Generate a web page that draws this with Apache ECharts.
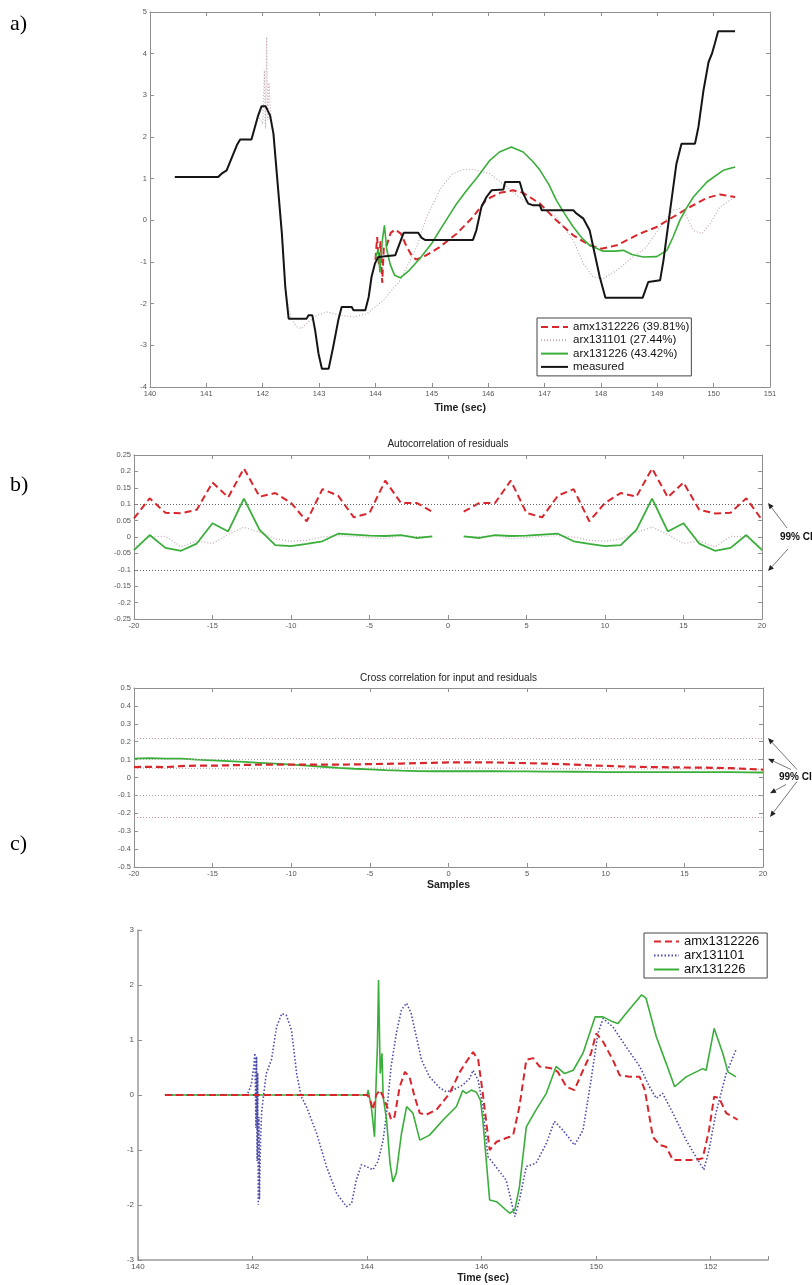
<!DOCTYPE html>
<html><head><meta charset="utf-8">
<script src="https://cdn.jsdelivr.net/npm/echarts@6/dist/echarts.min.js"></script>
<style>html,body{margin:0;padding:0;background:#fff}#c{width:812px;height:1285px}</style>
</head><body><div id="c"></div>
<script>
// ---------------- DATA ----------------
// Panel a: simulated vs measured output
const aMeasured = [[140.44,1.04],[141.21,1.04],[141.27,1.12],[141.36,1.2],[141.54,1.8],[141.60,1.94],[141.80,1.94],[141.92,2.52],[141.98,2.74],[142.05,2.74],[142.13,2.52],[142.19,2.08],[142.25,1.12],[142.34,-0.32],[142.40,-1.6],[142.46,-2.36],[142.78,-2.36],[142.81,-2.28],[142.88,-2.28],[142.93,-2.64],[142.99,-3.2],[143.05,-3.56],[143.17,-3.56],[143.25,-3.04],[143.34,-2.4],[143.40,-2.08],[143.58,-2.08],[143.61,-2.16],[143.82,-2.16],[143.88,-1.84],[143.93,-1.36],[143.99,-1.04],[144.05,-0.88],[144.35,-0.84],[144.50,-0.3],[144.76,-0.3],[144.82,-0.42],[144.88,-0.47],[145.73,-0.47],[145.79,-0.24],[145.88,0.32],[145.97,0.56],[146.06,0.72],[146.27,0.74],[146.30,0.92],[146.56,0.92],[146.62,0.64],[146.71,0.40],[146.80,0.36],[146.92,0.36],[146.95,0.24],[147.51,0.24],[147.57,0.16],[147.69,0.04],[147.80,-0.24],[147.89,-0.80],[147.98,-1.36],[148.08,-1.86],[148.74,-1.86],[148.84,-1.48],[149.05,-1.44],[149.11,-0.96],[149.22,0.16],[149.34,1.36],[149.43,1.84],[149.67,1.84],[149.73,2.24],[149.82,3.12],[149.91,3.8],[149.97,4.0],[150.02,4.24],[150.08,4.54],[150.38,4.54]];
const aAmx = [[144.0,-0.95],[144.03,-0.4],[144.06,-1.05],[144.09,-0.5],[144.12,-1.5],[144.15,-0.6],[144.2,-0.6],[144.27,-0.3],[144.35,-0.22],[144.45,-0.32],[144.55,-0.62],[144.65,-0.86],[144.72,-0.94],[144.85,-0.88],[145.0,-0.76],[145.14,-0.64],[145.44,-0.32],[145.73,0.08],[145.97,0.5],[146.21,0.66],[146.44,0.72],[146.62,0.66],[146.92,0.4],[147.21,0.0],[147.51,-0.36],[147.8,-0.6],[148.01,-0.68],[148.28,-0.6],[148.69,-0.32],[148.99,-0.16],[149.28,0.08],[149.58,0.32],[149.88,0.54],[150.11,0.62],[150.38,0.56]];
const aArx101 = [[141.92,2.52],[142.0,2.3],[142.03,3.6],[142.05,2.2],[142.07,4.4],[142.09,2.4],[142.11,3.3],[142.14,2.6],[142.2,2.0],[142.25,1.0],[142.34,-0.4],[142.42,-1.8],[142.5,-2.35],[142.6,-2.55],[142.68,-2.6],[142.8,-2.45],[142.96,-2.28],[143.14,-2.2],[143.37,-2.28],[143.61,-2.32],[143.85,-2.24],[144.14,-1.92],[144.44,-1.44],[144.73,-0.64],[144.91,0.08],[145.15,0.75],[145.35,1.1],[145.55,1.22],[145.73,1.22],[146.03,1.12],[146.33,0.8],[146.62,0.48],[146.92,0.32],[147.21,0.08],[147.51,-0.48],[147.69,-1.04],[147.86,-1.36],[148.04,-1.4],[148.28,-1.2],[148.57,-0.88],[148.81,-0.64],[149.05,-0.16],[149.28,0.24],[149.40,0.28],[149.52,0.08],[149.64,-0.24],[149.79,-0.32],[149.94,-0.08],[150.11,0.32],[150.38,0.56]];
const aArx226 = [[144.0,-0.9],[144.05,-0.7],[144.08,-1.25],[144.12,-0.5],[144.16,-0.12],[144.2,-0.7],[144.26,-1.05],[144.34,-1.32],[144.44,-1.38],[144.6,-1.2],[144.8,-0.9],[145.0,-0.55],[145.14,-0.24],[145.44,0.4],[145.62,0.72],[145.8,1.02],[146.03,1.44],[146.2,1.64],[146.41,1.76],[146.62,1.64],[146.8,1.4],[146.92,1.2],[147.08,0.85],[147.21,0.48],[147.36,0.15],[147.51,-0.16],[147.66,-0.42],[147.8,-0.6],[148.04,-0.74],[148.25,-0.74],[148.4,-0.72],[148.55,-0.82],[148.75,-0.88],[148.99,-0.87],[149.17,-0.72],[149.28,-0.4],[149.4,0.0],[149.52,0.3],[149.64,0.56],[149.88,0.92],[150.17,1.2],[150.38,1.28]];
const aNames = ['amx1312226 (39.81%)','arx131101 (27.44%)','arx131226 (43.42%)','measured'];

// Panel b: residual correlations (lags -20..20, lag 0 omitted for autocorrelation)
const lags = [-20,-19,-18,-17,-16,-15,-14,-13,-12,-11,-10,-9,-8,-7,-6,-5,-4,-3,-2,-1,0,1,2,3,4,5,6,7,8,9,10,11,12,13,14,15,16,17,18,19,20];
const acAmx = [0.057,0.118,0.074,0.072,0.083,0.166,0.121,0.209,0.123,0.134,0.104,0.048,0.146,0.126,0.060,0.073,0.172,0.104,0.104,0.077,null,0.077,0.104,0.104,0.172,0.073,0.060,0.126,0.146,0.048,0.104,0.134,0.123,0.209,0.121,0.166,0.083,0.072,0.074,0.118,0.052];
const acArx101 = [-0.032,0.000,0.002,-0.030,-0.012,-0.020,0.008,0.030,0.014,-0.006,-0.013,-0.010,0.000,0.004,0.002,-0.002,-0.005,0.004,0.001,0.000,null,0.000,0.001,0.004,-0.005,-0.002,0.002,0.004,0.000,-0.010,-0.013,-0.006,0.014,0.030,0.008,-0.020,-0.012,-0.030,0.002,0.000,-0.032];
const acArx226 = [-0.040,0.006,-0.033,-0.042,-0.020,0.042,0.017,0.117,0.022,-0.025,-0.028,-0.021,-0.013,0.010,0.007,0.004,0.003,0.006,-0.003,0.002,null,0.002,-0.003,0.006,0.003,0.004,0.007,0.010,-0.013,-0.021,-0.028,-0.025,0.022,0.117,0.017,0.042,-0.020,-0.042,-0.033,0.006,-0.040];
const acCI = [0.104,-0.104];
const ccAmx = [0.058,0.060,0.058,0.064,0.066,0.066,0.068,0.070,0.072,0.072,0.072,0.072,0.072,0.072,0.073,0.075,0.076,0.078,0.080,0.082,0.084,0.085,0.085,0.084,0.082,0.080,0.078,0.075,0.072,0.068,0.065,0.062,0.060,0.058,0.057,0.056,0.055,0.054,0.052,0.048,0.044];
const ccArx101 = [0.052,0.052,0.051,0.051,0.051,0.050,0.050,0.050,0.050,0.050,0.050,0.050,0.051,0.051,0.051,0.052,0.052,0.052,0.052,0.052,0.052,0.052,0.052,0.051,0.051,0.051,0.050,0.050,0.050,0.050,0.049,0.049,0.049,0.048,0.048,0.048,0.047,0.047,0.046,0.046,0.045];
const ccArx226 = [0.105,0.108,0.106,0.105,0.100,0.096,0.092,0.087,0.082,0.077,0.072,0.066,0.060,0.054,0.049,0.045,0.041,0.038,0.036,0.035,0.035,0.035,0.035,0.035,0.034,0.034,0.033,0.033,0.032,0.031,0.030,0.030,0.030,0.030,0.030,0.030,0.030,0.030,0.030,0.029,0.028];
const ccCIouter = [0.22,-0.22];
const ccCIinner = [0.105,-0.105];

// Panel c: prediction errors
const cAmx = [[140.47,0],[144.0,0],[144.05,-0.06],[144.1,-0.27],[144.16,0],[144.22,0.09],[144.28,-0.03],[144.37,-0.27],[144.42,-0.45],[144.48,-0.39],[144.57,0.15],[144.66,0.42],[144.74,0.33],[144.83,-0.03],[144.92,-0.33],[145.03,-0.36],[145.21,-0.27],[145.44,0.03],[145.62,0.42],[145.73,0.6],[145.85,0.78],[145.94,0.64],[146.02,0.03],[146.14,-1.0],[146.26,-0.85],[146.49,-0.76],[146.55,-0.73],[146.66,-0.21],[146.78,0.64],[146.9,0.67],[147.01,0.52],[147.24,0.48],[147.33,0.42],[147.48,0.15],[147.62,0.09],[147.77,0.45],[147.91,0.76],[148.0,1.12],[148.12,0.97],[148.29,0.64],[148.41,0.36],[148.58,0.33],[148.76,0.33],[148.85,0.09],[148.99,-0.76],[149.11,-0.91],[149.22,-0.94],[149.34,-1.18],[149.74,-1.18],[149.86,-1.15],[149.97,-0.64],[150.06,-0.03],[150.15,-0.06],[150.27,-0.33],[150.47,-0.45]];
const cArx101 = [[140.47,0],[141.9,0],[141.94,0.08],[141.98,0.2],[142.02,0.5],[142.04,0.76],[142.06,-0.6],[142.07,0.7],[142.08,-1.2],[142.09,0.4],[142.1,-2.0],[142.11,-0.4],[142.12,-1.9],[142.14,-0.8],[142.16,-0.3],[142.19,-0.03],[142.24,0.39],[142.33,0.64],[142.42,1.24],[142.51,1.48],[142.59,1.45],[142.68,1.18],[142.77,0.39],[142.85,-0.03],[142.94,-0.21],[143.12,-0.7],[143.29,-1.3],[143.47,-1.79],[143.64,-2.03],[143.73,-1.97],[143.81,-1.55],[143.9,-1.27],[143.99,-1.3],[144.1,-1.36],[144.19,-1.21],[144.28,-0.82],[144.34,-0.33],[144.42,0.52],[144.51,1.12],[144.6,1.55],[144.69,1.67],[144.77,1.48],[144.86,1.06],[144.95,0.64],[145.09,0.33],[145.27,0.13],[145.38,0.06],[145.5,0.09],[145.67,0.18],[145.79,0.3],[145.85,0.45],[145.94,0.27],[146.02,-0.21],[146.11,-1.12],[146.2,-1.24],[146.43,-1.55],[146.58,-2.21],[146.66,-1.91],[146.78,-1.3],[146.95,-1.24],[147.13,-0.88],[147.27,-0.48],[147.42,-0.64],[147.62,-0.91],[147.77,-0.64],[147.91,0.27],[148.03,1.12],[148.12,1.39],[148.29,1.24],[148.52,0.88],[148.76,0.52],[148.93,0.15],[149.05,-0.06],[149.16,0.03],[149.34,-0.33],[149.57,-0.82],[149.74,-1.12],[149.88,-1.36],[149.97,-1.0],[150.09,-0.33],[150.27,0.39],[150.44,0.82]];
const cArx226 = [[140.47,0],[144.0,0],[144.02,0.09],[144.08,-0.27],[144.13,-0.76],[144.16,0.3],[144.18,0.88],[144.2,2.09],[144.22,0.9],[144.23,0.39],[144.26,0.76],[144.28,-0.03],[144.34,-0.45],[144.4,-1.24],[144.45,-1.58],[144.51,-1.42],[144.6,-0.7],[144.69,-0.21],[144.8,-0.33],[144.92,-0.82],[145.09,-0.73],[145.33,-0.45],[145.56,-0.21],[145.67,0.08],[145.73,0.03],[145.82,0.09],[145.91,0.05],[145.98,-0.1],[146.02,-0.45],[146.14,-1.91],[146.26,-1.94],[146.49,-2.15],[146.58,-2.09],[146.66,-1.67],[146.78,-0.58],[146.95,-0.27],[147.13,0.03],[147.3,0.52],[147.45,0.39],[147.6,0.45],[147.77,0.76],[147.98,1.42],[148.12,1.42],[148.29,1.33],[148.38,1.3],[148.52,1.48],[148.79,1.82],[148.87,1.76],[149.05,1.06],[149.22,0.58],[149.37,0.15],[149.57,0.33],[149.86,0.48],[149.92,0.45],[150.06,1.21],[150.21,0.76],[150.3,0.42],[150.44,0.33]];
const cNames = ['amx1312226','arx131101','arx131226'];
const cTickLabels = ['140','142','144','146','150','152'];

// ---------------- STYLE / LAYOUT ----------------
const FONT = 'Liberation Sans, Arial, sans-serif';
const AXC = '#8f8f8f';
const RED = '#d8262c', GREEN = '#3aae3a', GREY = '#c4a8b0', BLUE = '#4a4aa6', BLACK = '#151515';
const pairs = (ys) => lags.map((k, i) => [k, ys[i]]);

function xAx(grid, min, max, interval, pos, extra) {
  return Object.assign({
    type: 'value', gridIndex: grid, min, max, interval, position: pos,
    axisLine: { show: true, onZero: false, lineStyle: { color: AXC, width: 1 } },
    axisTick: { show: true, inside: true, length: 4, lineStyle: { color: AXC } },
    axisLabel: { show: pos === 'bottom', fontSize: 7.5, color: '#555', margin: 3, fontFamily: FONT },
    splitLine: { show: false }
  }, extra || {});
}
function yAx(grid, min, max, interval, pos, extra) {
  return Object.assign({
    type: 'value', gridIndex: grid, min, max, interval, position: pos,
    axisLine: { show: true, onZero: false, lineStyle: { color: AXC, width: 1 } },
    axisTick: { show: true, inside: true, length: 4, lineStyle: { color: AXC } },
    axisLabel: { show: pos === 'left', fontSize: 7.5, color: '#555', margin: 3, fontFamily: FONT },
    splitLine: { show: false }
  }, extra || {});
}
const nameBold = { fontSize: 10.5, fontWeight: 'bold', color: '#222', fontFamily: FONT };
const titleStyle = { fontSize: 10, color: '#222', fontFamily: FONT };

function line(name, data, xi, yi, color, width, type, z, extra) {
  return Object.assign({
    type: 'line', name, data, xAxisIndex: xi, yAxisIndex: yi,
    symbol: 'none', showSymbol: false, connectNulls: false, z: z || 2,
    lineStyle: { color, width, type }, itemStyle: { color }, animation: false
  }, extra || {});
}
function ciLines(vals, color) {
  return vals.map(v => ({ yAxis: v, lineStyle: { color, type: [1, 2], width: 1 } }));
}
const mlBase = { silent: true, symbol: ['none', 'none'], label: { show: false }, animation: false };

const option = {
  backgroundColor: '#fff',
  animation: false,
  title: [
    { text: 'a)', left: 10, top: 13, padding: 0, textStyle: { fontFamily: 'Liberation Serif, Times New Roman, serif', fontSize: 22, fontWeight: 'normal', color: '#000' } },
    { text: 'b)', left: 10, top: 474, padding: 0, textStyle: { fontFamily: 'Liberation Serif, Times New Roman, serif', fontSize: 22, fontWeight: 'normal', color: '#000' } },
    { text: 'c)', left: 10, top: 833, padding: 0, textStyle: { fontFamily: 'Liberation Serif, Times New Roman, serif', fontSize: 22, fontWeight: 'normal', color: '#000' } }
  ],
  grid: [
    { left: 150, top: 12, width: 620, height: 375 },
    { left: 134, top: 455, width: 628, height: 164 },
    { left: 134, top: 688, width: 629, height: 179 },
    { left: 138, top: 930, width: 630, height: 330 }
  ],
  xAxis: [
    xAx(0, 140, 151, 1, 'bottom', { name: 'Time (sec)', nameLocation: 'middle', nameGap: 16, nameTextStyle: nameBold }),
    xAx(0, 140, 151, 1, 'top'),
    xAx(1, -20, 20, 5, 'bottom'),
    xAx(1, -20, 20, 5, 'top', { name: 'Autocorrelation of residuals', nameLocation: 'middle', nameGap: 6, nameTextStyle: titleStyle }),
    xAx(2, -20, 20, 5, 'bottom', { name: 'Samples', nameLocation: 'middle', nameGap: 13, nameTextStyle: nameBold }),
    xAx(2, -20, 20, 5, 'top', { name: 'Cross correlation for input and residuals', nameLocation: 'middle', nameGap: 5, nameTextStyle: titleStyle }),
    xAx(3, 140, 151, 2, 'bottom', {
      axisLine: { show: true, onZero: false, lineStyle: { color: '#9a9a9a', width: 1.5 } },
      axisLabel: { show: true, fontSize: 8, color: '#555', margin: 3, fontFamily: FONT,
        formatter: (v) => cTickLabels[Math.round((v - 140) / 2)] },
      name: 'Time (sec)', nameLocation: 'middle', nameGap: 13,
      nameTextStyle: Object.assign({}, nameBold, { padding: [0, 0, 0, 60] })
    })
  ],
  yAxis: [
    yAx(0, -4, 5, 1, 'left'),
    yAx(0, -4, 5, 1, 'right'),
    yAx(1, -0.25, 0.25, 0.05, 'left'),
    yAx(1, -0.25, 0.25, 0.05, 'right'),
    yAx(2, -0.5, 0.5, 0.1, 'left'),
    yAx(2, -0.5, 0.5, 0.1, 'right'),
    yAx(3, -3, 3, 1, 'left', {
      axisLine: { show: true, onZero: false, lineStyle: { color: '#9a9a9a', width: 1.5 } },
      axisLabel: { show: true, fontSize: 8, color: '#555', margin: 4, fontFamily: FONT }
    })
  ],
  legend: [
    { data: aNames, left: 537, top: 318, orient: 'vertical', itemWidth: 27, itemHeight: 12, itemGap: 1.3,
      padding: [3, 2, 3, 3], borderColor: '#444', borderWidth: 1, backgroundColor: '#fff',
      itemStyle: { opacity: 0 },
      textStyle: { fontSize: 11.5, color: '#111', fontFamily: FONT }, selectedMode: false },
    { data: cNames, left: 644, top: 933, orient: 'vertical', itemWidth: 25, itemHeight: 14, itemGap: 1,
      padding: [2, 8, 2, 9], borderColor: '#444', borderWidth: 1, backgroundColor: '#fff',
      itemStyle: { opacity: 0 },
      textStyle: { fontSize: 13, color: '#111', fontFamily: FONT }, selectedMode: false }
  ],
  series: [
    // panel a
    line(aNames[1], aArx101, 0, 0, GREY, 1.2, [1, 2], 2),
    line(aNames[0], aAmx, 0, 0, RED, 2, [7, 4], 3),
    line(aNames[2], aArx226, 0, 0, GREEN, 1.6, 'solid', 3),
    line(aNames[3], aMeasured, 0, 0, BLACK, 2, 'solid', 4),
    // panel b autocorrelation
    line('ac-arx131101', pairs(acArx101), 2, 2, GREY, 1.2, [1, 2], 2,
      { markLine: Object.assign({}, mlBase, { data: ciLines(acCI, '#666') }) }),
    line('ac-amx1312226', pairs(acAmx), 2, 2, RED, 2, [7, 4], 3),
    line('ac-arx131226', pairs(acArx226), 2, 2, GREEN, 1.8, 'solid', 3),
    // panel b cross correlation
    line('cc-arx131101', pairs(ccArx101), 4, 4, GREY, 1.2, [1, 2], 2,
      { markLine: Object.assign({}, mlBase, { data: ciLines(ccCIouter, '#d89a9a').concat(ciLines(ccCIinner, '#aaaaaa')) }) }),
    line('cc-arx131226', pairs(ccArx226), 4, 4, GREEN, 1.8, 'solid', 3),
    line('cc-amx1312226', pairs(ccAmx), 4, 4, RED, 2.2, [7, 4], 4),
    // panel c
    line(cNames[1], cArx101, 6, 6, BLUE, 1.6, [1.5, 2], 2),
    line(cNames[2], cArx226, 6, 6, GREEN, 1.6, 'solid', 3),
    line(cNames[0], cAmx, 6, 6, RED, 2, [7, 4], 4)
  ]
};

const chart = echarts.init(document.getElementById('c'), null, { renderer: 'canvas' });
chart.setOption(option);

// ---------------- 99% CI annotations ----------------
function arrow(x1, y1, x2, y2) {
  const ang = Math.atan2(y2 - y1, x2 - x1);
  const L = 6, W = 2.6;
  const bx = x2 - L * Math.cos(ang), by = y2 - L * Math.sin(ang);
  const px = -Math.sin(ang) * W, py = Math.cos(ang) * W;
  return [
    { type: 'line', silent: true, shape: { x1, y1, x2: bx, y2: by }, style: { stroke: '#777', lineWidth: 1 } },
    { type: 'polygon', silent: true, shape: { points: [[x2, y2], [bx + px, by + py], [bx - px, by - py]] }, style: { fill: '#222' } }
  ];
}
const ciText = (x, y) => ({ type: 'text', silent: true, x, y,
  style: { text: '99% CI', fontSize: 10, fontWeight: 'bold', fill: '#111', fontFamily: 'Liberation Sans Narrow, Arial Narrow, ' + FONT, textAlign: 'left', textVerticalAlign: 'middle' } });

const g = [];
const a0 = chart.convertToPixel({ seriesIndex: 4 }, [20, 0]);
const aUp = chart.convertToPixel({ seriesIndex: 4 }, [20, acCI[0]]);
const aDn = chart.convertToPixel({ seriesIndex: 4 }, [20, acCI[1]]);
g.push(ciText(a0[0] + 18, a0[1]));
g.push(...arrow(a0[0] + 25, a0[1] - 9, aUp[0] + 6, aUp[1]));
g.push(...arrow(a0[0] + 26, a0[1] + 12, aDn[0] + 6, aDn[1]));
const c0 = chart.convertToPixel({ seriesIndex: 7 }, [20, 0]);
const cO1 = chart.convertToPixel({ seriesIndex: 7 }, [20, ccCIouter[0]]);
const cI1 = chart.convertToPixel({ seriesIndex: 7 }, [20, ccCIinner[0]]);
const cI2 = chart.convertToPixel({ seriesIndex: 7 }, [20, ccCIinner[1]]);
const cO2 = chart.convertToPixel({ seriesIndex: 7 }, [20, ccCIouter[1]]);
g.push(ciText(c0[0] + 16, c0[1]));
g.push(...arrow(c0[0] + 34, c0[1] - 8, cO1[0] + 5, cO1[1]));
g.push(...arrow(c0[0] + 28, c0[1] - 8, cI1[0] + 5, cI1[1]));
g.push(...arrow(c0[0] + 23, c0[1] + 7, cI2[0] + 7, cI2[1] - 3));
g.push(...arrow(c0[0] + 34, c0[1] + 4, cO2[0] + 7, cO2[1]));
chart.setOption({ graphic: g });
</script></body></html>
